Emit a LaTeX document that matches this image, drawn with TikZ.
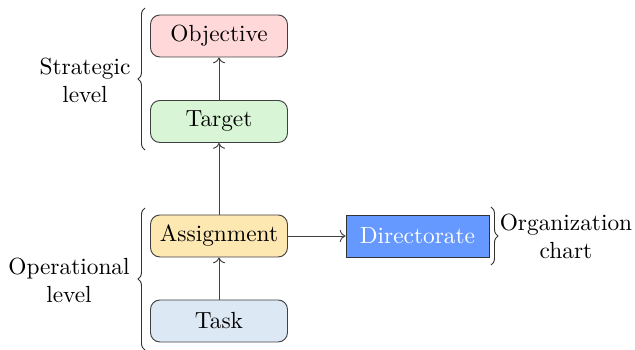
\documentclass[tikz,border=0pt]{standalone}
\usetikzlibrary{decorations.pathreplacing,arrows.meta}
\definecolor{objfill}{HTML}{FFD9D9}
\definecolor{tarfill}{HTML}{D8F5D5}
\definecolor{assfill}{HTML}{FDE8B2}
\definecolor{tskfill}{HTML}{DDE8F5}
\definecolor{dirfill}{HTML}{6699FF}
\tikzset{
  level box/.style={draw=black!75, rounded corners=4pt, minimum width=58.7pt, minimum height=18pt, inner sep=0pt},
  org box/.style={draw=black!80, fill=dirfill, text=white, minimum width=61.3pt, minimum height=18pt, inner sep=0pt},
  link/.style={draw=black!75, ->},
  bracedeco/.style={decorate, decoration={brace, amplitude=3pt}, draw=black!80},
  sidelabel/.style={align=center, inner sep=0pt}
}
\begin{document}
\begin{tikzpicture}[x=0.4286pt, y=-0.4286pt]
\useasboundingbox (0,0) rectangle (635,350);
\node[level box, fill=objfill] (obj) at (219,36) {Objective};
\node[level box, fill=tarfill] (tar) at (219,121.5) {Target};
\node[level box, fill=assfill] (ass) at (219,236) {Assignment};
\node[level box, fill=tskfill] (tsk) at (219,321) {Task};
\node[org box] (dir) at (417.5,236) {Directorate};
\draw[link] (tar) -- (obj);
\draw[link] (ass) -- (tar);
\draw[link] (tsk) -- (ass);
\draw[link] (ass) -- (dir);
\coordinate (sb1) at (145,150);
\coordinate (sb2) at (145,8);
\coordinate (ob1) at (145,350);
\coordinate (ob2) at (145,208);
\coordinate (cb1) at (491,207);
\coordinate (cb2) at (491,265);
\draw[bracedeco] (sb1) -- (sb2);
\draw[bracedeco] (ob1) -- (ob2);
\draw[bracedeco] (cb1) -- (cb2);
\node[sidelabel] (sl) at (85,80) {Strategic\\level};
\node[sidelabel] (ol) at (69,280) {Operational\\level};
\node[sidelabel] (cl) at (566,236) {Organization\\chart};
\end{tikzpicture}
\end{document}
